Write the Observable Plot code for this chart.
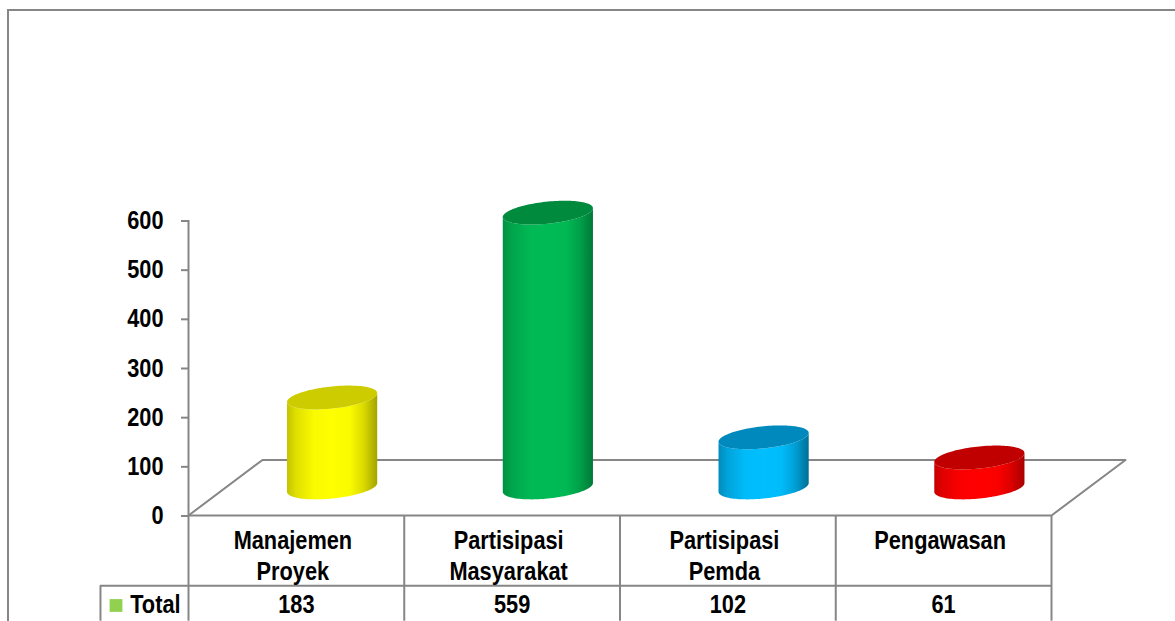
<!DOCTYPE html>
<html>
<head>
<meta charset="utf-8">
<script src="https://cdn.jsdelivr.net/npm/d3@7"></script>
<script src="https://cdn.jsdelivr.net/npm/@observablehq/plot@0.6"></script>
<style>
  html, body { margin: 0; padding: 0; background: #fff; overflow: hidden; }
  #chart { position: relative; width: 1175px; height: 621px; }
  #chart svg { position: absolute; left: 0; top: 0; overflow: visible; }
  #frame { position: absolute; left: 7px; top: 9px; right: -4px; bottom: -4px; border: 2px solid #868686; }
</style>
</head>
<body>
<div id="chart"><div id="frame"></div></div>
<script>
// Survey totals per category
const categories = ["Manajemen\nProyek", "Partisipasi\nMasyarakat", "Partisipasi\nPemda", "Pengawasan"];
const totals = [183, 559, 102, 61];
const yTicks = [0, 100, 200, 300, 400, 500, 600];

// Cylinder colours: side highlight, side shade, lid
const sideColors = ["#ffff00", "#00bb55", "#00bfff", "#ff0000"];
const edgeColors = ["#a3a300", "#007a38", "#006f96", "#a80000"];
const lidColors = ["#cccc00", "#008a3e", "#0089bd", "#c00000"];

const gridColor = "#868686";
const legendColor = "#92d050";
const font = "'Liberation Sans', Arial, sans-serif";
// No narrow face is installed, so labels are condensed horizontally
const textSqueeze = 0.87;

// Oblique floor depth, in axis units
const depthX = 0.343;
const depthY = 113;
// Cylinder seat on the floor and cross-section, in axis units
const seatX = 0.168;
const seatY = 56;
const radiusX = 0.209;
const radiusY = 22.5;
const tilt = 9;

// Table layout, in axis units
const tableRow = -143;
const tableBottom = -215;
const totalCellLeft = -0.408;

// Half-ellipse sampling across a cylinder, denser near the sides
const arc = d3.range(0, 61).map(i => Math.cos(Math.PI * (1 - i / 60)));

function cylinderMarks(value, i) {
  const cx = i + 0.5 + seatX;
  const pts = arc.map(u => ({
    x: cx + radiusX * u,
    lowerBase: seatY + tilt * u - radiusY * Math.sqrt(1 - u * u),
    lowerTop: seatY + value + tilt * u - radiusY * Math.sqrt(1 - u * u),
    upperTop: seatY + value + tilt * u + radiusY * Math.sqrt(1 - u * u)
  }));
  return [
    Plot.areaY(pts, {x: "x", y1: "lowerBase", y2: "lowerTop", fill: `url(#side${i})`}),
    Plot.areaY(pts, {x: "x", y1: "lowerTop", y2: "upperTop", fill: lidColors[i]})
  ];
}

const columns = d3.range(0, 5);
const labelled = categories.map((label, i) => ({label, total: totals[i], x: i + 0.5}));

const chart = Plot.plot({
  width: 1175,
  height: 621,
  marginLeft: 188,
  marginRight: 124,
  marginTop: 220,
  marginBottom: 106,
  style: {fontFamily: font, background: "transparent"},
  x: {domain: [0, 4], axis: null},
  y: {domain: [0, 600]},
  marks: [
    // Floor and walls
    Plot.line([[0, 0], [depthX, depthY], [4 + depthX, depthY], [4, 0]], {stroke: gridColor, strokeWidth: 2}),
    Plot.ruleY([0], {x1: 0, x2: 4, stroke: gridColor, strokeWidth: 2}),
    Plot.axisY({
      ticks: yTicks, tickSize: 7, tickPadding: 18,
      stroke: gridColor, strokeWidth: 2, color: "#000",
      fontSize: 25, fontWeight: "bold", label: null, dy: 0.5
    }),
    Plot.ruleX([0], {y1: 0, y2: 600, stroke: gridColor, strokeWidth: 2}),

    // Data table under the plot
    Plot.ruleX(columns, {y1: 0, y2: tableBottom, stroke: gridColor, strokeWidth: 2}),
    Plot.ruleY([tableRow], {x1: totalCellLeft, x2: 4, stroke: gridColor, strokeWidth: 2}),
    Plot.ruleX([totalCellLeft], {y1: tableRow, y2: tableBottom, stroke: gridColor, strokeWidth: 2}),
    Plot.text(labelled, {
      x: "x", y: -24, dx: -3.5, text: "label", lineAnchor: "top", lineHeight: 1.24,
      fontSize: 25, fontWeight: "bold", fill: "#000"
    }),
    Plot.text(labelled, {
      x: "x", y: -183, text: d => String(d.total),
      fontSize: 25, fontWeight: "bold", fill: "#000"
    }),
    Plot.dot([0], {
      x: -0.336, y: -183, symbol: "square", r: 7.2, fill: legendColor, stroke: null
    }),
    Plot.text(["Total"], {
      x: -0.037, y: -183, text: d => d, textAnchor: "end",
      fontSize: 25, fontWeight: "bold", fill: "#000"
    }),

    // Cylinders
    ...totals.flatMap(cylinderMarks)
  ]
});

// Horizontal shading that gives each cylinder side its roundness
const defs = d3.select(chart).append("defs");
sideColors.forEach((color, i) => {
  const g = defs.append("linearGradient").attr("id", `side${i}`)
    .attr("x1", 0).attr("x2", 1).attr("y1", 0).attr("y2", 0);
  const mix = d3.interpolateRgb(edgeColors[i], color);
  [[0, 0.35], [0.1, 0.65], [0.3, 0.95], [0.5, 1], [0.7, 0.95], [0.85, 0.6], [1, 0]]
    .forEach(([offset, t]) => {
      g.append("stop").attr("offset", offset).attr("stop-color", mix(t));
    });
});

// Condense every label about its own anchor
chart.querySelectorAll("text").forEach(t => {
  const base = t.getAttribute("transform") || "";
  t.setAttribute("transform", `${base} scale(${textSqueeze},1)`);
});

document.getElementById("chart").appendChild(chart);
</script>
</body>
</html>
